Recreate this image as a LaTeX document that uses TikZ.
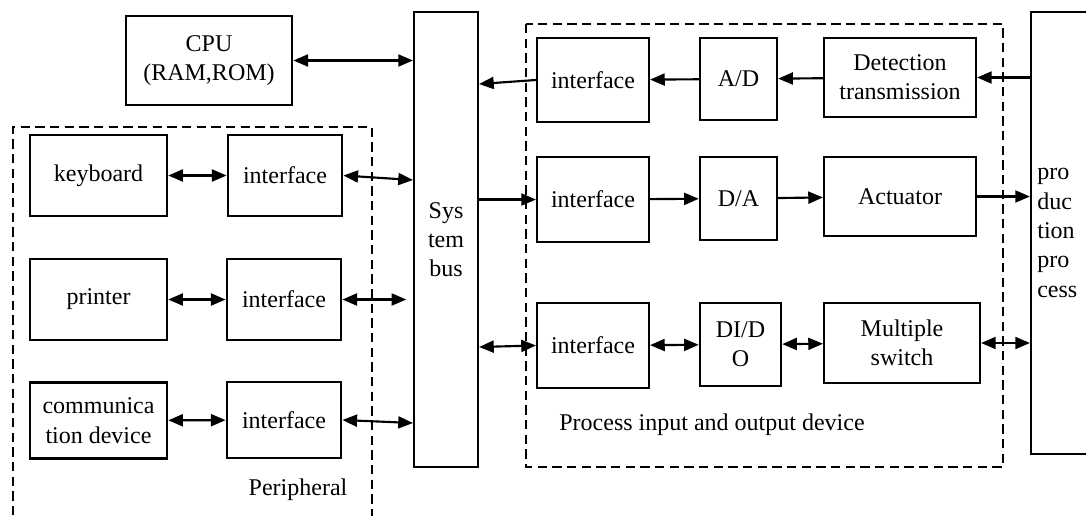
\documentclass[tikz,border=0pt]{standalone}
\usepackage{fontspec}
\setmainfont{Liberation Serif}
\usetikzlibrary{arrows.meta}

\begin{document}
\begin{tikzpicture}[
  x=0.75pt, y=-0.75pt,
  >={Triangle[length=11pt,width=9pt]},
  every node/.style={font=\fontsize{18}{22}\selectfont},
  box/.style={draw, line width=1.6pt, align=center, inner sep=1pt},
  link/.style={line width=1.6pt},
  group/.style={line width=1.4pt, dash pattern=on 7pt off 4pt}
]
  \useasboundingbox (0,0) rectangle (1086,515);

  % computer side
  \node[box, minimum width=125pt, minimum height=67pt] (cpu) at (209,60.5) {CPU\\(RAM,ROM)};
  \node[box, minimum width=48pt, minimum height=341pt] (bus) at (446,239.5) {Sys\\tem\\bus};

  % peripherals
  \node[box, minimum width=103pt, minimum height=61pt] (keyboard) at (98.5,175.5) {keyboard};
  \node[box, minimum width=86pt, minimum height=61pt] (ifk) at (285,175.5) {interface};
  \node[box, minimum width=103pt, minimum height=61pt] (printer) at (98.5,299.5) {printer};
  \node[box, minimum width=86pt, minimum height=61pt] (ifp) at (284,299.5) {interface};
  \node[box, minimum width=103pt, minimum height=57pt] (comm) at (98.5,420.5) {communica\\tion device};
  \node[box, minimum width=86pt, minimum height=57pt] (ifc) at (284,420) {interface};
  \node (peri) at (298,490) {Peripheral};
  \draw[group] (13,530) -- (13,127) -- (372,127) -- (372,530);

  % process input and output
  \node[box, minimum width=84pt, minimum height=63pt] (ifa) at (593,80) {interface};
  \node[box, minimum width=58pt, minimum height=62pt] (ad) at (738.5,79) {A/D};
  \node[box, minimum width=114pt, minimum height=59pt] (det) at (900,77.5) {Detection\\transmission};
  \node[box, minimum width=84pt, minimum height=64pt] (ifd) at (593,199.5) {interface};
  \node[box, minimum width=58pt, minimum height=62pt] (da) at (738.5,198.5) {D/A};
  \node[box, minimum width=114pt, minimum height=59pt] (act) at (900,196.5) {Actuator};
  \node[box, minimum width=84pt, minimum height=64pt] (ifs) at (593,345.5) {interface};
  \node[box, minimum width=61pt, minimum height=62pt] (dido) at (740.5,344.5) {DI/D\\O};
  \node[box, minimum width=117pt, minimum height=60pt] (msw) at (902,343) {Multiple\\switch};
  \node (pio) at (712,425) {Process input and output device};
  \draw[group] (526,24) rectangle (1003,467);

  \node[box, minimum width=82.5pt, minimum height=331.5pt, text width=73pt, align=left] (prod) at (1086,233) {pro\\duc\\tion\\pro\\cess};

  % links
  \draw[link, <->] (cpu.east) -- (cpu.east -| bus.west);
  \draw[link, <->] (keyboard) -- (ifk);
  \draw[link, <->] (printer) -- (ifp);
  \draw[link, <->] (comm) -- (ifc);
  \draw[link, <->] (ifk.east) -- (bus.west |- 0,180);
  \draw[link, <->, shorten >=5pt] (ifp.east) -- (ifp.east -| bus.west);
  \draw[link, <->] (ifc.east) -- (bus.west |- 0,423);

  \draw[link, ->] (ifa.west) -- (bus.east |- 0,84);
  \draw[link, ->] (ad) -- (ifa);
  \draw[link, ->] (det) -- (ad);
  \draw[link, ->] (det.east -| prod.west) -- (det.east);

  \draw[link, ->] (bus.east |- ifd) -- (ifd.west);
  \draw[link, ->] (ifd) -- (da);
  \draw[link, ->] (da) -- (act);
  \draw[link, ->] (act.east) -- (act.east -| prod.west);

  \draw[link, <->] (bus.east |- 0,347) -- (ifs.west);
  \draw[link, <->] (ifs) -- (dido);
  \draw[link, <->] (dido) -- (msw);
  \draw[link, <->] (msw.east) -- (msw.east -| prod.west);
\end{tikzpicture}
\end{document}
